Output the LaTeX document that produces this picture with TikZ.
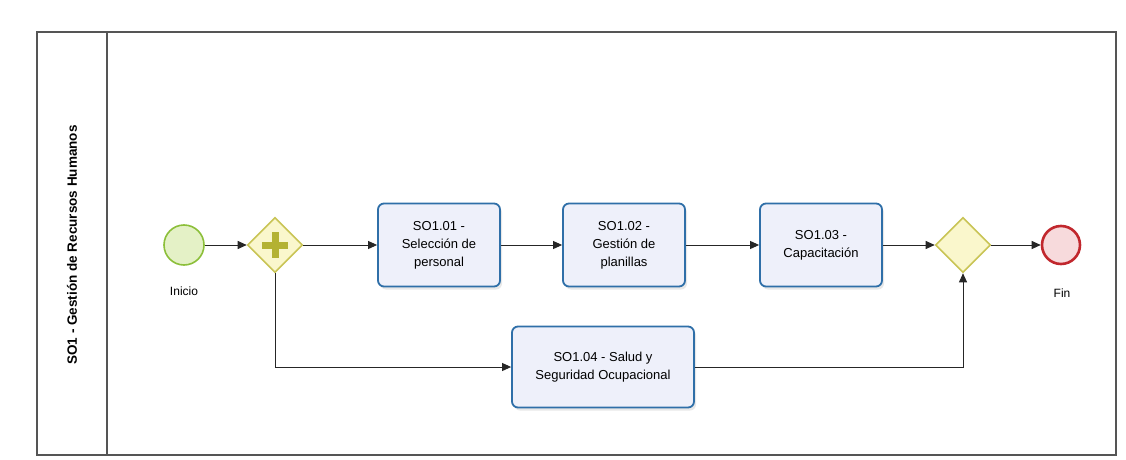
\documentclass[tikz,border=0pt]{standalone}
\usepackage{fontspec}
\setmainfont{Liberation Sans}
\usetikzlibrary{shapes.geometric,arrows.meta,shadows}
\definecolor{taskfill}{HTML}{EEF0FA}
\definecolor{taskline}{HTML}{2F6FA8}
\definecolor{startfill}{HTML}{E4F1C6}
\definecolor{startline}{HTML}{8CBF3A}
\definecolor{gwfill}{HTML}{FAF7CC}
\definecolor{gwline}{HTML}{C9C455}
\definecolor{plusc}{HTML}{B4B232}
\definecolor{endfill}{HTML}{F7DADC}
\definecolor{endline}{HTML}{C1272D}
\definecolor{poolline}{HTML}{555555}
\tikzset{
  x=1pt, y=-1pt,
  task/.style={draw=taskline, line width=1.8pt, fill=taskfill, rounded corners=6pt,
    align=center, font=\fontsize{13}{18}\selectfont, inner sep=0pt,
    drop shadow={shadow xshift=2pt, shadow yshift=-3pt, opacity=0.18}},
  startev/.style={circle, draw=startline, line width=1.6pt, fill=startfill, minimum size=40pt, inner sep=0pt},
  endev/.style={circle, draw=endline, line width=2.6pt, fill=endfill, minimum size=38pt, inner sep=0pt},
  gw/.style={diamond, draw=gwline, line width=1.6pt, fill=gwfill, minimum size=55pt, inner sep=0pt},
  flow/.style={draw=black!85, line width=0.9pt, -{Triangle[length=9pt,width=8pt]}},
  evlabel/.style={font=\fontsize{12}{14}\selectfont},
}
\begin{document}
\begin{tikzpicture}
\useasboundingbox (0,0) rectangle (1126,460);
\fill[white] (0,0) rectangle (1126,460);
% pool and lane header
\draw[poolline, line width=1.3pt] (37,32) rectangle (1116,455);
\draw[poolline, line width=1.3pt] (107,32) -- (107,455);
\node[rotate=90, font=\bfseries\fontsize{13.5}{16}\selectfont] (lane) at (72,245) {SO1 - Gestión de Recursos Humanos};
% events and gateways
\node[startev] (start) at (184,245) {};
\node[evlabel] (startlbl) at (184,291) {Inicio};
\node[gw] (split) at (275,245) {};
\fill[plusc] (275,245) +(-3.5,-13) rectangle +(3.5,13);
\fill[plusc] (275,245) +(-13,-3.5) rectangle +(13,3.5);
\node[gw] (join) at (963,245) {};
\node[endev] (end) at (1061,245) {};
\node[evlabel] (endlbl) at (1062,293) {Fin};
% tasks
\node[task, minimum width=122pt, minimum height=83pt] (t1) at (439,245) {SO1.01 -\\Selección de\\personal};
\node[task, minimum width=122pt, minimum height=83pt] (t2) at (624,245) {SO1.02 -\\Gestión de\\planillas};
\node[task, minimum width=122pt, minimum height=83pt] (t3) at (821,245) {SO1.03 -\\Capacitación};
\node[task, minimum width=182pt, minimum height=81pt] (t4) at (603,367) {SO1.04 - Salud y\\Seguridad Ocupacional};
% sequence flows
\draw[flow] (start) -- (split);
\draw[flow] (split) -- (t1);
\draw[flow] (t1) -- (t2);
\draw[flow] (t2) -- (t3);
\draw[flow] (t3) -- (join);
\draw[flow] (join) -- (end);
\draw[flow] (split.south) |- (t4.west);
\draw[flow] (t4.east) -| (join.south);
\end{tikzpicture}
\end{document}
